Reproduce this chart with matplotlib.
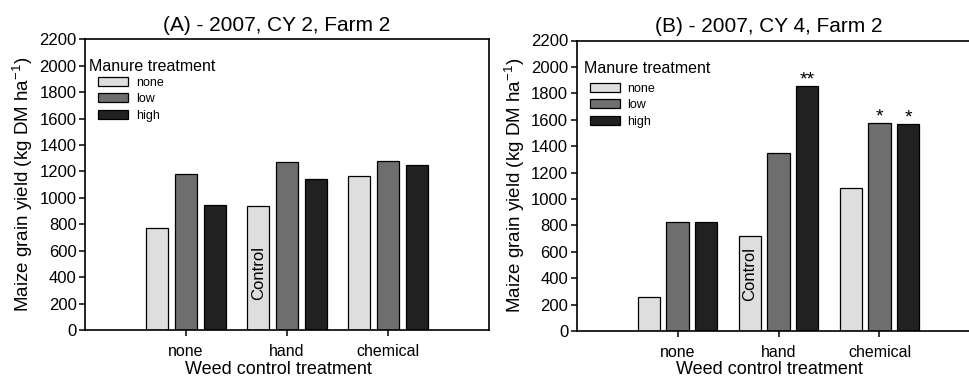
import matplotlib
matplotlib.use("Agg")
import matplotlib.pyplot as plt
import numpy as np

plt.rcParams['font.family'] = ['Liberation Sans', 'DejaVu Sans']
plt.rcParams['mathtext.default'] = 'regular'

weed_groups = ["none", "hand", "chemical"]
manure_levels = ["none", "low", "high"]

# Panel A - 2007, CY 2, Farm 2 (values per weed group: none, hand, chemical)
yield_A_none = [770, 936, 1168]
yield_A_low = [1183, 1274, 1279]
yield_A_high = [946, 1145, 1246]

# Panel B - 2007, CY 4, Farm 2
yield_B_none = [255, 721, 1080]
yield_B_low = [827, 1348, 1578]
yield_B_high = [827, 1859, 1568]

# significance marks for panel B (manure level, weed group index, label)
sig_B = [("high", 1, "**"), ("low", 2, "*"), ("high", 2, "*")]

titles = ["(A) - 2007, CY 2, Farm 2", "(B) - 2007, CY 4, Farm 2"]
yticks = list(range(0, 2201, 200))

colors = {"none": "#dedede", "low": "#6e6e6e", "high": "#212121"}
offsets = {"none": -0.285, "low": 0.0, "high": 0.285}
bar_w = 0.22

W, H = 969, 377
fig = plt.figure(figsize=(W / 100, H / 100), dpi=100)

ax_positions = [
    [85 / W, 47 / H, 404 / W, 290.7 / H],
    [576.5 / W, 46 / H, 404 / W, 290.5 / H],
]

data = [
    {"none": yield_A_none, "low": yield_A_low, "high": yield_A_high},
    {"none": yield_B_none, "low": yield_B_low, "high": yield_B_high},
]
sigs = [[], sig_B]
leg_title_pos = [(0.010, 0.907), (0.018, 0.902)]
leg_anchor = [(0.033, 0.872), (0.033, 0.855)]
xlabel_y = [-0.108, -0.104]

x = np.arange(1, len(weed_groups) + 1)

for i in range(2):
    ax = fig.add_axes(ax_positions[i])
    for lvl in manure_levels:
        ax.bar(x + offsets[lvl], data[i][lvl], width=bar_w, color=colors[lvl],
               edgecolor="black", linewidth=0.9, label=lvl, zorder=2)
    ax.set_xlim(0, 4)
    ax.set_ylim(0, 2200)
    ax.set_yticks(yticks)
    ax.set_xticks(x)
    ax.set_xticklabels(weed_groups, fontsize=11.5)
    ax.tick_params(axis="y", labelsize=12, direction="out", length=4, width=1.1, pad=2)
    ax.tick_params(axis="x", direction="out", length=4, width=1.1, pad=6)
    for sp in ax.spines.values():
        sp.set_linewidth(1.2)
    ax.set_ylabel("Maize grain yield (kg DM ha$^{-1}$)", fontsize=13.5, labelpad=3)
    ax.set_xlabel("Weed control treatment", fontsize=13, labelpad=4)
    ax.xaxis.set_label_coords(0.478, xlabel_y[i])
    ax.set_title(titles[i], fontsize=15, x=0.475, pad=6)

    # Control label inside hand / none bar
    ax.text(x[1] + offsets["none"], 230, "Control", rotation=90, ha="center",
            va="bottom", fontsize=12, zorder=3)

    for lvl, gi, lab in sigs[i]:
        ax.text(x[gi] + offsets[lvl], data[i][lvl][gi] - 20, lab, ha="center",
                va="bottom", fontsize=14, zorder=3)

    ax.text(leg_title_pos[i][0], leg_title_pos[i][1], "Manure treatment",
            transform=ax.transAxes, ha="left", va="center", fontsize=11.5)
    ax.legend(loc="upper left", bbox_to_anchor=leg_anchor[i], frameon=False,
              fontsize=9, handlelength=2.4, handleheight=0.7, labelspacing=0.37,
              handletextpad=0.6, borderaxespad=0.0, borderpad=0.0)

fig.savefig("out.png", dpi=100)
